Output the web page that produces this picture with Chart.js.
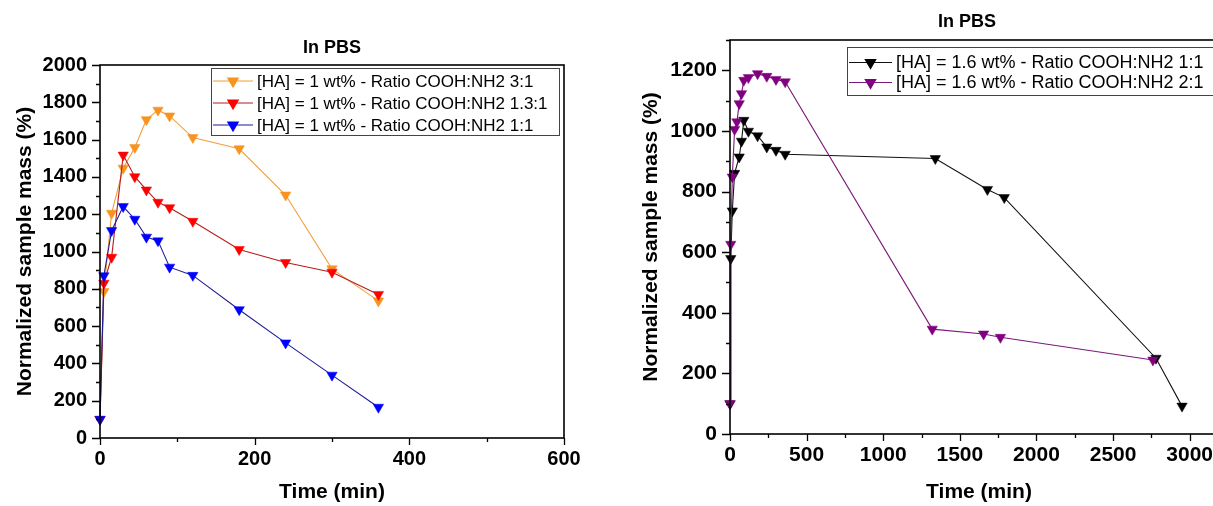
<!DOCTYPE html>
<html>
<head>
<meta charset="utf-8">
<script src="https://cdn.jsdelivr.net/npm/chart.js@4.4.0/dist/chart.umd.min.js"></script>
<style>
  html, body { margin:0; padding:0; background:#fff; overflow:hidden; width:1213px; height:506px; }
  .panel { position:absolute; top:0; }
  #leftPanel { left:0; }
  #rightPanel { left:620px; }
</style>
</head>
<body>
<div class="panel" id="leftPanel"><canvas id="leftChart" width="600" height="506"></canvas></div>
<div class="panel" id="rightPanel"><canvas id="rightChart" width="628" height="506"></canvas></div>
<script>
// ── Data: left panel, [HA] = 1 wt% ──────────────────
const leftTime   = [0, 5, 15, 30, 45, 60, 75, 90, 120, 180, 240, 300, 360];
const ratio3to1  = [100, 785, 1205, 1447, 1558, 1707, 1758, 1727, 1611, 1551, 1303, 907, 735];
const ratio13to1 = [100, 830, 969, 1517, 1401, 1330, 1264, 1235, 1162, 1011, 941, 889, 770];
const ratio1to1  = [100, 870, 1112, 1241, 1173, 1077, 1057, 916, 872, 688, 510, 337, 165];
const leftLabels = [
  "[HA] = 1 wt% - Ratio COOH:NH2 3:1",
  "[HA] = 1 wt% - Ratio COOH:NH2 1.3:1",
  "[HA] = 1 wt% - Ratio COOH:NH2 1:1",
];

// ── Data: right panel, [HA] = 1.6 wt% ───────────────
const blackTime  = [0, 5, 15, 30, 60, 75, 90, 120, 180, 240, 300, 360, 1340, 1680, 1790, 2780, 2950];
const hiRatio1   = [100, 579, 736, 860, 914, 966, 1035, 999, 984, 947, 936, 923, 909, 807, 780, 250, 92];
const purpleTime = [0, 5, 15, 30, 45, 60, 75, 90, 120, 180, 240, 300, 360, 1320, 1655, 1765, 2760];
const hiRatio2   = [100, 626, 848, 1005, 1030, 1090, 1123, 1167, 1176, 1189, 1180, 1170, 1162, 346, 330, 319, 244];
const rightLabels = [
  "[HA] = 1.6 wt% - Ratio COOH:NH2 1:1",
  "[HA] = 1.6 wt% - Ratio COOH:NH2 2:1",
];

const FONT = "'Liberation Sans', Arial, Helvetica, sans-serif";
Chart.defaults.font.family = FONT;
Chart.defaults.color = "#000";

function pts(xs, ys) { return xs.map((x, i) => ({ x, y: ys[i] })); }

// lower "order" is painted on top
function series(label, xs, ys, line, mark, order) {
  return {
    label, data: pts(xs, ys), showLine: true, order,
    borderColor: line, borderWidth: 1.1, backgroundColor: mark,
    pointStyle: "triangle", pointRotation: 180, pointRadius: 6, pointHoverRadius: 6,
    pointBackgroundColor: mark, pointBorderColor: mark, pointBorderWidth: 0.5,
    clip: false,
  };
}

// ── Frame, ticks, title and legend box (Origin style) ──
const framePlugin = {
  id: "frame",
  afterDraw(chart, args, o) {
    const { ctx, chartArea: a } = chart;
    const x = chart.scales.x, y = chart.scales.y;
    ctx.save();
    ctx.strokeStyle = "#000";
    ctx.lineWidth = 1.6;
    ctx.strokeRect(a.left, a.top, a.right - a.left, a.bottom - a.top);

    ctx.lineWidth = 1.3;
    ctx.beginPath();
    x.ticks.forEach(t => {
      const px = Math.round(x.getPixelForValue(t.value)) + 0.5;
      const len = t.value % o.xMajor === 0 ? 7 : 4;
      ctx.moveTo(px, a.bottom); ctx.lineTo(px, a.bottom + len);
    });
    y.ticks.forEach(t => {
      const py = Math.round(y.getPixelForValue(t.value)) + 0.5;
      const len = t.value % o.yMajor === 0 ? 8 : 4;
      ctx.moveTo(a.left, py); ctx.lineTo(a.left - len, py);
    });
    ctx.stroke();

    // title
    ctx.fillStyle = "#000";
    ctx.font = "bold 18px " + FONT;
    ctx.textAlign = "center";
    ctx.textBaseline = "middle";
    ctx.fillText("In PBS", o.titleX, o.titleY);

    // legend
    const L = o.legend;
    ctx.fillStyle = "#fff";
    ctx.fillRect(L.x, L.y, L.w, L.h);
    ctx.strokeStyle = "#444";
    ctx.lineWidth = 1;
    ctx.strokeRect(L.x + 0.5, L.y + 0.5, L.w, L.h);
    ctx.font = L.size + "px " + FONT;
    ctx.textAlign = "left";
    chart.data.datasets.forEach((ds, i) => {
      const ry = L.rowY[i];
      ctx.strokeStyle = ds.borderColor;
      ctx.lineWidth = 1.2;
      ctx.beginPath();
      ctx.moveTo(L.line0, ry); ctx.lineTo(L.line1, ry);
      ctx.stroke();
      ctx.fillStyle = ds.pointBackgroundColor;
      ctx.strokeStyle = ds.pointBackgroundColor;
      Chart.helpers.drawPoint(ctx, { pointStyle: "triangle", rotation: 180, radius: 6, borderWidth: 0.5 },
        (L.line0 + L.line1) / 2, ry);
      ctx.fillStyle = "#000";
      ctx.fillText(ds.label, L.textX, ry + 1);
    });
    ctx.restore();
  },
};

function buildOptions(c) {
  return {
    responsive: false,
    animation: false,
    events: [],
    layout: { padding: c.pad },
    plugins: { legend: { display: false }, tooltip: { enabled: false }, frame: c.frame },
    scales: {
      x: {
        type: "linear", min: 0, max: c.xMax,
        afterFit: s => { s.height = c.xH; },
        grid: { display: false, drawTicks: false }, border: { display: false },
        ticks: {
          stepSize: c.xStep, autoSkip: false, maxRotation: 0, maxTicksLimit: 100, padding: c.xTickPad,
          font: { size: c.tickSize, weight: "bold" },
          callback: v => (v % c.frame.xMajor === 0 ? v : ""),
        },
        title: { display: true, text: "Time (min)", font: { size: 21, weight: "bold" }, padding: { top: 0, bottom: 1 } },
      },
      y: {
        type: "linear", min: 0, max: c.yMax,
        afterFit: s => { s.width = c.yW; },
        grid: { display: false, drawTicks: false }, border: { display: false },
        ticks: {
          stepSize: 100, autoSkip: false, maxTicksLimit: 100, padding: 13,
          font: { size: c.tickSize, weight: "bold" },
          callback: v => (v % c.frame.yMajor === 0 ? v : ""),
        },
        title: { display: true, text: "Normalized sample mass (%)", font: { size: 21, weight: "bold" }, padding: { top: c.yTitlePad, bottom: 0 } },
      },
    },
  };
}

// ── Left panel ──────────────────────────────────────
new Chart(document.getElementById("leftChart"), {
  type: "scatter",
  data: {
    datasets: [
      series(leftLabels[0], leftTime, ratio3to1, "#F0A040", "#F7931E", 2),
      series(leftLabels[1], leftTime, ratio13to1, "#B81C1C", "#FF0000", 1),
      series(leftLabels[2], leftTime, ratio1to1, "#1C1C96", "#0000FF", 0),
    ],
  },
  options: buildOptions({
    pad: { top: 65, right: 36, bottom: 0, left: 0 },
    xMax: 600, xStep: 100, xH: 68, yMax: 2000, yW: 100, tickSize: 20, xTickPad: 9, yTitlePad: 13,
    frame: {
      xMajor: 200, yMajor: 200, titleX: 332, titleY: 48,
      legend: { x: 211, y: 68, w: 348, h: 67, rowY: [81, 103, 125], line0: 213, line1: 253, textX: 257, size: 17 },
    },
  }),
  plugins: [framePlugin],
});

// ── Right panel ─────────────────────────────────────
new Chart(document.getElementById("rightChart"), {
  type: "scatter",
  data: {
    datasets: [
      series(rightLabels[0], blackTime, hiRatio1, "#111111", "#000000", 1),
      series(rightLabels[1], purpleTime, hiRatio2, "#7A1A7A", "#800080", 0),
    ],
  },
  options: buildOptions({
    pad: { top: 40, right: 20, bottom: 0, left: 0 },
    xMax: 3250, xStep: 250, xH: 72, yMax: 1300, yW: 110, tickSize: 21, xTickPad: 9, yTitlePad: 19,
    frame: {
      xMajor: 500, yMajor: 200, titleX: 347, titleY: 22,
      legend: { x: 227, y: 47, w: 420, h: 48, rowY: [62.5, 82.5], line0: 229, line1: 272, textX: 276, size: 18 },
    },
  }),
  plugins: [framePlugin],
});
</script>
</body>
</html>
